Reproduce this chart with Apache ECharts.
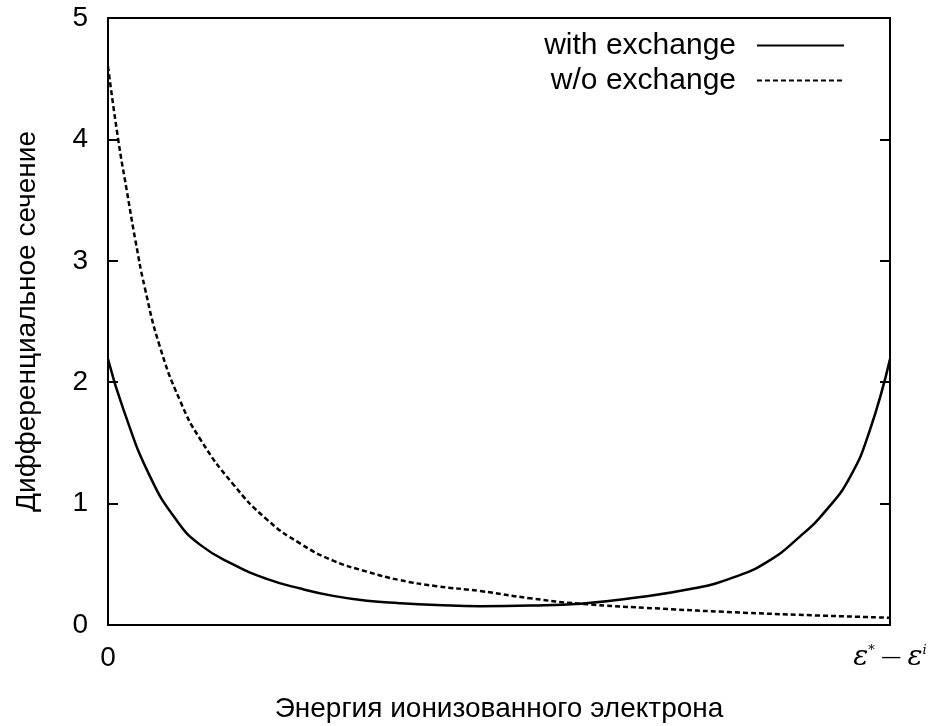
<!DOCTYPE html>
<html>
<head>
<meta charset="utf-8">
<script src="https://cdn.jsdelivr.net/npm/echarts@6/dist/echarts.min.js"></script>
<style>
html,body{margin:0;padding:0;background:#fff;}
#chart{width:937px;height:726px;}
</style>
</head>
<body>
<div id="chart"></div>
<script>
// Data (x normalized: 0 .. ε*−εⁱ = 1)
const withX = [0.000, 0.020, 0.054, 0.088, 0.118, 0.160, 0.203, 0.246, 0.288, 0.331, 0.373, 0.420, 0.476, 0.540, 0.604, 0.668, 0.748, 0.799, 0.843, 0.885, 0.919, 0.949, 0.974, 1.000];
const withY = [2.19, 1.77, 1.22, 0.86, 0.66, 0.50, 0.38, 0.30, 0.24, 0.20, 0.18, 0.165, 0.155, 0.160, 0.176, 0.22, 0.30, 0.39, 0.52, 0.73, 0.95, 1.22, 1.60, 2.19];
const woX = [0.000, 0.013, 0.024, 0.035, 0.047, 0.066, 0.092, 0.118, 0.160, 0.203, 0.246, 0.288, 0.331, 0.373, 0.420, 0.476, 0.540, 0.604, 0.706, 0.800, 0.900, 1.000];
const woY = [4.60, 4.00, 3.58, 3.17, 2.78, 2.30, 1.85, 1.53, 1.16, 0.87, 0.67, 0.53, 0.44, 0.37, 0.32, 0.28, 0.22, 0.175, 0.135, 0.105, 0.08, 0.06];
const seriesNames = ['with exchange', 'w/o exchange'];
const yTicks = [0, 1, 2, 3, 4, 5];
const xTitle = 'Энергия ионизованного электрона';
const yTitle = 'Дифференциальное сечение';

const zip = (xs, ys) => xs.map((x, i) => [x, ys[i]]);
const sans = "'Liberation Sans', Arial, sans-serif";

const chart = echarts.init(document.getElementById('chart'));
chart.setOption({
  backgroundColor: '#fff',
  animation: false,
  grid: { left: 108, right: 47, top: 18, bottom: 101, show: true, borderColor: '#000', borderWidth: 2, outerBoundsMode: 'none' },
  legend: {
    orient: 'vertical', align: 'right', right: 87, top: 23,
    itemWidth: 87, itemHeight: 14, itemGap: 0,
    itemStyle: { opacity: 0 },
    textStyle: { fontFamily: sans, fontSize: 30, color: '#000', lineHeight: 35, padding: [0, 16, 0, 0] },
    data: seriesNames
  },
  xAxis: {
    type: 'value', min: 0, max: 1, interval: 1,
    name: xTitle, nameLocation: 'middle', nameGap: 70,
    nameTextStyle: { fontFamily: sans, fontSize: 28, color: '#000' },
    axisLine: { show: true, lineStyle: { color: '#000', width: 2 } },
    axisTick: { show: false },
    splitLine: { show: false },
    axisLabel: {
      margin: 19, fontFamily: sans, fontSize: 28, color: '#000',
      formatter: v => v === 0 ? '0' : '{e|ε}{s|*}{m| — }{e|ε}{s|i}',
      rich: {
        e: { fontFamily: "'DejaVu Serif', serif", fontStyle: 'italic', fontSize: 28, color: '#000' },
        s: { fontFamily: "'DejaVu Serif', serif", fontStyle: 'italic', fontSize: 13, color: '#000', verticalAlign: 'top', padding: [0, 0, 14, 0] },
        m: { fontFamily: "'DejaVu Serif', serif", fontSize: 20, color: '#000' }
      }
    }
  },
  yAxis: [{
    type: 'value', min: 0, max: 5, interval: 1,
    name: yTitle, nameLocation: 'middle', nameGap: 67, nameRotate: 90,
    nameTextStyle: { fontFamily: sans, fontSize: 28, color: '#000' },
    axisLine: { show: true, lineStyle: { color: '#000', width: 2 } },
    axisTick: { show: true, inside: true, length: 10, lineStyle: { color: '#000', width: 2 } },
    splitLine: { show: false },
    axisLabel: { margin: 20, fontFamily: sans, fontSize: 28, color: '#000', formatter: v => yTicks.includes(v) ? String(v) : '' }
  }, {
    type: 'value', min: 0, max: 5, interval: 1, position: 'right',
    axisLine: { show: true, lineStyle: { color: '#000', width: 2 } },
    axisTick: { show: true, inside: true, length: 10, lineStyle: { color: '#000', width: 2 } },
    splitLine: { show: false },
    axisLabel: { show: false }
  }],
  series: [{
    name: seriesNames[0], type: 'line', data: zip(withX, withY),
    smooth: 0.5, symbol: 'none',
    lineStyle: { color: '#000', width: 2.5 }, itemStyle: { color: '#000' }
  }, {
    name: seriesNames[1], type: 'line', data: zip(woX, woY),
    smooth: 0.5, symbol: 'none',
    lineStyle: { color: '#000', width: 2.5, type: [5, 3] }, itemStyle: { color: '#000' }
  }]
});
</script>
</body>
</html>
